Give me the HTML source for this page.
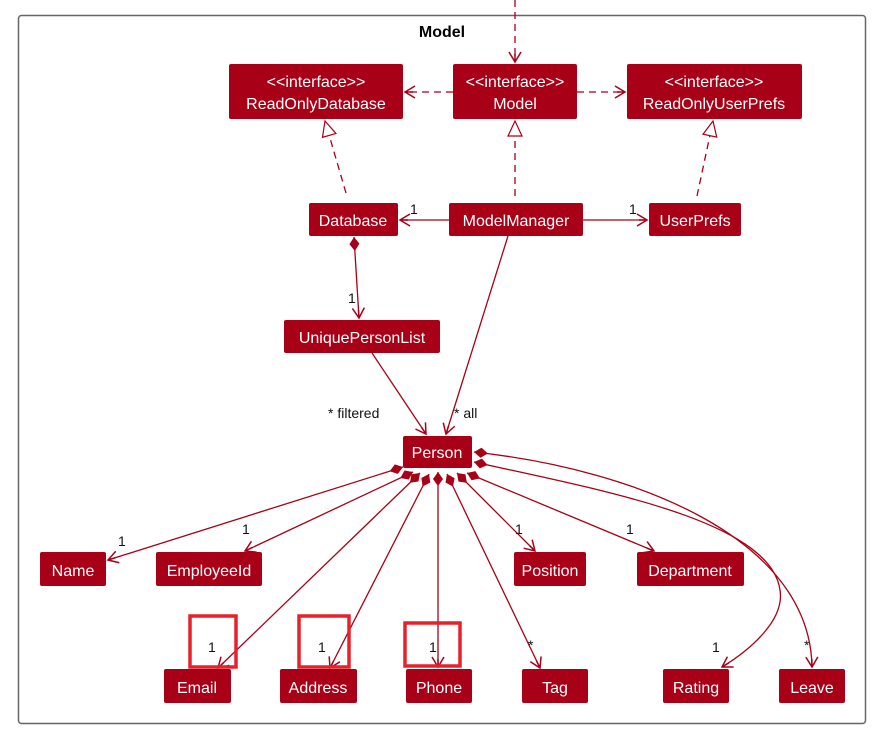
<!DOCTYPE html>
<html><head><style>
body{margin:0;background:#fff}
svg{display:block}
text{font-family:"Liberation Sans",sans-serif}
</style></head><body>
<svg width="893" height="732" viewBox="0 0 893 732" xmlns="http://www.w3.org/2000/svg">
<defs>
<marker id="a" markerWidth="14" markerHeight="14" refX="11" refY="7" orient="auto" markerUnits="userSpaceOnUse"><path d="M1,1 L11,7 L1,13 M11,7 L3,7" fill="none" stroke="#a80016" stroke-width="1.5"/></marker>
<marker id="t" markerWidth="18" markerHeight="18" refX="16" refY="8" orient="auto" markerUnits="userSpaceOnUse"><path d="M1,1 L16,8 L1,15 Z" fill="#fff" stroke="#a80016" stroke-width="1.2"/></marker>
<marker id="d" markerWidth="20" markerHeight="12" refX="1" refY="6" orient="auto" markerUnits="userSpaceOnUse"><path d="M1,6 L8,1 L15,6 L8,11 Z" fill="#a80016"/></marker>
</defs>
<rect x="18.5" y="15.5" width="847" height="708" rx="3" fill="#fff" stroke="#666" stroke-width="1.5"/>
<text x="442" y="37" font-size="16" font-weight="bold" text-anchor="middle">Model</text>
<g stroke="#a80016" stroke-width="1.3" fill="none">
<line x1="515" y1="0" x2="515" y2="62" stroke-dasharray="7,5" marker-end="url(#a)"/>
<line x1="453" y1="92" x2="405" y2="92" stroke-dasharray="7,5" marker-end="url(#a)"/>
<line x1="577" y1="92" x2="625" y2="92" stroke-dasharray="7,5" marker-end="url(#a)"/>
<line x1="346" y1="193" x2="325" y2="121" stroke-dasharray="7,5" marker-end="url(#t)"/>
<line x1="515" y1="196" x2="515" y2="121" stroke-dasharray="7,5" marker-end="url(#t)"/>
<line x1="697" y1="196" x2="713" y2="121" stroke-dasharray="7,5" marker-end="url(#t)"/>
<line x1="449" y1="220" x2="400" y2="220" marker-end="url(#a)"/>
<line x1="583" y1="220" x2="647" y2="220" marker-end="url(#a)"/>
<line x1="354" y1="237" x2="359" y2="318" marker-start="url(#d)" marker-end="url(#a)"/>
<line x1="372" y1="353" x2="426" y2="434" marker-end="url(#a)"/>
<line x1="508" y1="236" x2="446" y2="434" marker-end="url(#a)"/>
<line x1="403" y1="467" x2="108" y2="560" marker-start="url(#d)" marker-end="url(#a)"/>
<line x1="413" y1="472" x2="245" y2="551" marker-start="url(#d)" marker-end="url(#a)"/>
<line x1="420" y1="473" x2="218" y2="668" marker-start="url(#d)" marker-end="url(#a)"/>
<line x1="429" y1="474" x2="330" y2="668" marker-start="url(#d)" marker-end="url(#a)"/>
<line x1="438" y1="472" x2="438" y2="667" marker-start="url(#d)" marker-end="url(#a)"/>
<line x1="447" y1="474" x2="540" y2="668" marker-start="url(#d)" marker-end="url(#a)"/>
<line x1="457" y1="473" x2="535" y2="551" marker-start="url(#d)" marker-end="url(#a)"/>
<line x1="467" y1="473" x2="654" y2="551" marker-start="url(#d)" marker-end="url(#a)"/>
<path d="M474,462 C600,490 770,520 780,590 C785,620 750,650 722,667" marker-start="url(#d)" marker-end="url(#a)"/>
<path d="M474,452 C640,470 810,540 812,667" marker-start="url(#d)" marker-end="url(#a)"/>
</g>
<g fill="#a80016">
<rect x="229" y="64" width="174" height="55" rx="2"/>
<rect x="453" y="64" width="124" height="55" rx="2"/>
<rect x="627" y="64" width="175" height="55" rx="2"/>
<rect x="309" y="203" width="89" height="33" rx="2"/>
<rect x="449" y="203" width="134" height="33" rx="2"/>
<rect x="649" y="203" width="92" height="33" rx="2"/>
<rect x="284" y="320" width="156" height="33" rx="2"/>
<rect x="403" y="436" width="69" height="32" rx="2"/>
<rect x="40" y="552" width="66" height="34" rx="2"/>
<rect x="156" y="552" width="106" height="34" rx="2"/>
<rect x="514" y="552" width="72" height="34" rx="2"/>
<rect x="637" y="552" width="107" height="34" rx="2"/>
<rect x="164" y="669" width="67" height="34" rx="2"/>
<rect x="280" y="669" width="77" height="34" rx="2"/>
<rect x="406" y="669" width="66" height="34" rx="2"/>
<rect x="522" y="669" width="66" height="34" rx="2"/>
<rect x="663" y="669" width="66" height="34" rx="2"/>
<rect x="779" y="669" width="66" height="34" rx="2"/>
</g>
<g fill="#fff" font-size="16" text-anchor="middle">
<text x="316" y="87">&lt;&lt;interface&gt;&gt;</text><text x="316" y="109">ReadOnlyDatabase</text>
<text x="515" y="87">&lt;&lt;interface&gt;&gt;</text><text x="515" y="109">Model</text>
<text x="714" y="87">&lt;&lt;interface&gt;&gt;</text><text x="714" y="109">ReadOnlyUserPrefs</text>
<text x="353" y="226">Database</text>
<text x="516" y="226">ModelManager</text>
<text x="695" y="226">UserPrefs</text>
<text x="362" y="343">UniquePersonList</text>
<text x="437" y="458">Person</text>
<text x="73" y="576">Name</text>
<text x="209" y="576">EmployeeId</text>
<text x="550" y="576">Position</text>
<text x="690" y="576">Department</text>
<text x="197" y="693">Email</text>
<text x="318" y="693">Address</text>
<text x="439" y="693">Phone</text>
<text x="555" y="693">Tag</text>
<text x="696" y="693">Rating</text>
<text x="812" y="693">Leave</text>
</g>
<g fill="#111" font-size="14">
<text x="410" y="214">1</text>
<text x="629" y="214">1</text>
<text x="348" y="303">1</text>
<text x="328" y="418">* filtered</text>
<text x="454" y="418">* all</text>
<text x="118" y="546">1</text>
<text x="242" y="534">1</text>
<text x="515" y="534">1</text>
<text x="626" y="534">1</text>
<text x="208" y="652">1</text>
<text x="318" y="652">1</text>
<text x="429" y="652">1</text>
<text x="528" y="650">*</text>
<text x="712" y="652">1</text>
<text x="804" y="650">*</text>
</g>
<g fill="none" stroke="#e8202a" stroke-width="3.5">
<rect x="190" y="616" width="46" height="51"/>
<rect x="299" y="616" width="50" height="51"/>
<rect x="405" y="623" width="55" height="43"/>
</g>
</svg>
</body></html>
